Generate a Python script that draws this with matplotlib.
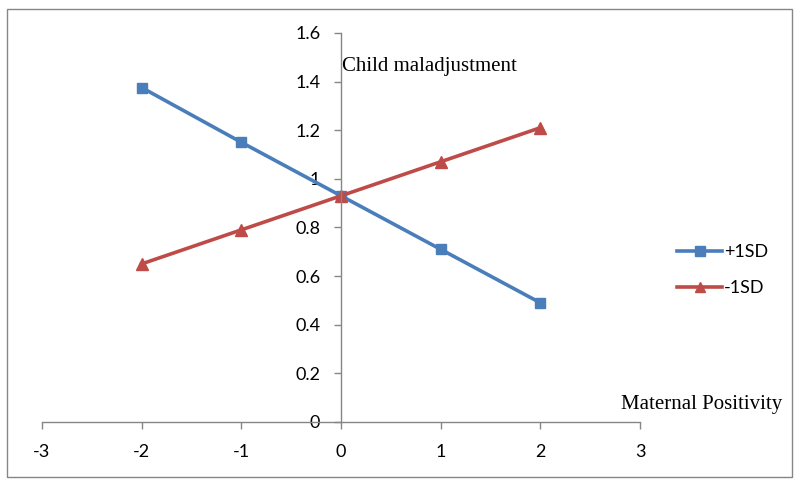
import matplotlib.pyplot as plt
from matplotlib.patches import Rectangle

# data
x_vals = [-2, -1, 0, 1, 2]
plus_1sd = [1.375, 1.15, 0.93, 0.71, 0.49]
minus_1sd = [0.65, 0.79, 0.93, 1.07, 1.21]
series_names = ['+1SD', '-1SD']
x_ticks = [-3, -2, -1, 0, 1, 2, 3]
y_ticks = [0, 0.2, 0.4, 0.6, 0.8, 1, 1.2, 1.4, 1.6]

blue = '#4A7EBB'
red = '#BE4B48'
axis_grey = '#868686'
tick_font = ['Lato', 'DejaVu Sans']
label_font = ['Liberation Serif', 'DejaVu Serif']

fig = plt.figure(figsize=(8, 4.87), dpi=100)
ax = fig.add_axes([0.0525, 0.1335, 0.7475, 0.799])

# outer chart border
fig.patches.append(Rectangle((7 / 800, 10 / 487), 785 / 800, 468 / 487,
                             transform=fig.transFigure, fill=False,
                             edgecolor=axis_grey, linewidth=1))

ax.plot(x_vals, plus_1sd, color=blue, linewidth=2.6, marker='s',
        markersize=7.5, label=series_names[0])
ax.plot(x_vals, minus_1sd, color=red, linewidth=2.6, marker='^',
        markersize=8, label=series_names[1])

ax.set_xlim(-3, 3)
ax.set_ylim(0, 1.6)

# Excel-style axes crossing at the origin
ax.spines['left'].set_position(('data', 0))
ax.spines['bottom'].set_position(('data', 0))
ax.spines['top'].set_visible(False)
ax.spines['right'].set_visible(False)
for s in ('left', 'bottom'):
    ax.spines[s].set_color(axis_grey)
    ax.spines[s].set_linewidth(1)

ax.set_xticks(x_ticks)
ax.set_yticks(y_ticks)
ax.set_xticklabels([str(t) for t in x_ticks], family=tick_font, fontsize=13)
ax.set_yticklabels([f'{t:g}' for t in y_ticks], family=tick_font, fontsize=13)
ax.tick_params(axis='both', direction='out', length=5, color=axis_grey, width=1)
ax.tick_params(axis='x', pad=11)
ax.tick_params(axis='y', pad=10)

ax.text(0.01, 1.46, 'Child maladjustment', family=label_font, fontsize=15,
        ha='left', va='center')
fig.text(782 / 800, 1 - 405 / 487, 'Maternal Positivity', family=label_font,
         fontsize=15, ha='right', va='center')

leg = fig.legend(loc='center left', bbox_to_anchor=(661 / 800, 1 - 270 / 487),
                 frameon=False, prop={'family': tick_font, 'size': 13},
                 handlelength=2.5, handletextpad=0.1, labelspacing=1.1,
                 markerscale=0.9)

fig.savefig('out.png', dpi=100)
